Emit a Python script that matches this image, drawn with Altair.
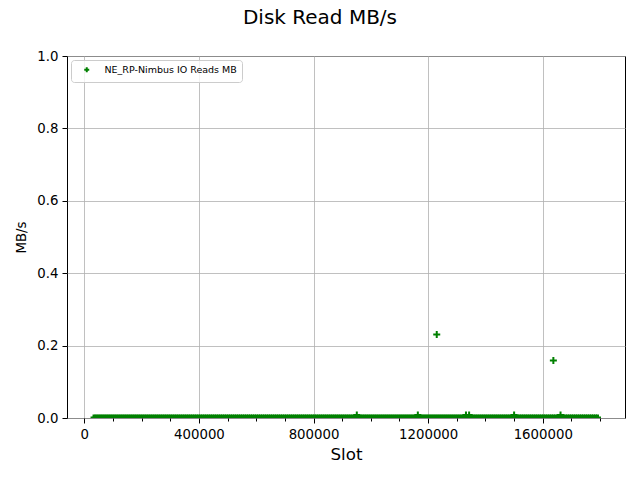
import altair as alt
import pandas as pd

# ---- data ----
series_name = "NE_RP-Nimbus IO Reads MB"

# slots (in thousands) where the reading is zero
zero_slots_k = [
    34, 41, 48, 55, 62, 69, 76, 83, 90, 97,
    104, 111, 118, 125, 132, 139, 146, 153, 160, 167,
    174, 181, 188, 195, 202, 209, 216, 223, 230, 237,
    244, 251, 258, 265, 272, 279, 286, 293, 300, 307,
    314, 321, 328, 335, 342, 349, 356, 363, 370, 377,
    384, 391, 398, 405, 412, 419, 426, 433, 440, 447,
    454, 461, 468, 475, 482, 489, 496, 503, 510, 517,
    524, 531, 538, 545, 552, 559, 566, 573, 580, 587,
    594, 601, 608, 615, 622, 629, 636, 643, 650, 657,
    664, 671, 678, 685, 692, 699, 706, 713, 720, 727,
    734, 741, 748, 755, 762, 769, 776, 783, 790, 797,
    804, 811, 818, 825, 832, 839, 846, 853, 860, 867,
    874, 881, 888, 895, 902, 909, 916, 923, 930, 937,
    944, 951, 958, 965, 972, 979, 986, 993, 1000, 1007,
    1014, 1021, 1028, 1035, 1042, 1049, 1056, 1063, 1070, 1077,
    1084, 1091, 1098, 1105, 1112, 1119, 1126, 1133, 1140, 1147,
    1154, 1161, 1168, 1175, 1182, 1189, 1196, 1203, 1210, 1217,
    1224, 1231, 1238, 1245, 1252, 1259, 1266, 1273, 1280, 1287,
    1294, 1301, 1308, 1315, 1322, 1329, 1336, 1343, 1350, 1357,
    1364, 1371, 1378, 1385, 1392, 1399, 1406, 1413, 1420, 1427,
    1434, 1441, 1448, 1455, 1462, 1469, 1476, 1483, 1490, 1497,
    1504, 1511, 1518, 1525, 1532, 1539, 1546, 1553, 1560, 1567,
    1574, 1581, 1588, 1595, 1602, 1609, 1616, 1623, 1630, 1637,
    1644, 1651, 1658, 1665, 1672, 1679, 1686, 1693, 1700, 1707,
    1714, 1721, 1728, 1735, 1742, 1749, 1756, 1763, 1770, 1777,
    1784, 1791,
]

# non-zero readings
spike_slots = [951000, 1164000, 1230000, 1332000, 1343000, 1500000, 1637000, 1662000]
spike_values = [0.008, 0.008, 0.231, 0.008, 0.008, 0.008, 0.159, 0.008]

x_tick_values = [0, 100000, 200000, 300000, 400000, 500000, 600000, 700000, 800000,
                 900000, 1000000, 1100000, 1200000, 1300000, 1400000, 1500000,
                 1600000, 1700000, 1800000]
y_tick_values = [0.0, 0.2, 0.4, 0.6, 0.8, 1.0]

slots = [s * 1000 for s in zero_slots_k] + spike_slots
values = [0.0] * len(zero_slots_k) + spike_values
df = pd.DataFrame({"Slot": slots, "MB/s": values, "series": series_name})

plus = "M-1,0L1,0M0,-1L0,1"
FONT = "DejaVu Sans"

chart = (
    alt.Chart(df)
    .mark_point(shape=plus, filled=False, size=49, clip=True, opacity=1)
    .encode(
        x=alt.X(
            "Slot:Q",
            scale=alt.Scale(domain=[-60400, 1887000], nice=False, zero=False),
            axis=alt.Axis(
                title="Slot",
                values=x_tick_values,
                format="d",
                labelExpr="datum.value % 400000 === 0 ? datum.label : ''",
                tickSize={"condition": {"test": "datum.value % 400000 === 0", "value": 5}, "value": 3},
                gridOpacity={"condition": {"test": "datum.value % 400000 === 0", "value": 1}, "value": 0},
                titleFontSize=16.7,
                titlePadding=6,
            ),
        ),
        y=alt.Y(
            "MB/s:Q",
            scale=alt.Scale(domain=[0, 1], nice=False),
            axis=alt.Axis(
                title="MB/s",
                values=y_tick_values,
                format=".1f",
                tickSize=5,
                titleFontSize=13.3,
                titlePadding=8,
            ),
        ),
        strokeWidth=alt.condition("datum['MB/s'] == 0", alt.value(3), alt.value(2)),
        color=alt.Color(
            "series:N",
            scale=alt.Scale(range=["#008000"]),
            legend=alt.Legend(
                title=None,
                orient="none",
                legendX=4,
                legendY=4,
                padding=5,
                symbolOffset=6,
                symbolType=plus,
                symbolSize=25,
                symbolStrokeWidth=2,
                labelFontSize=9.5,
                labelOffset=13,
                labelFont=FONT,
                labelColor="black",
                strokeColor="#cccccc",
                cornerRadius=3,
                fillColor="rgba(255,255,255,0.8)",
            ),
        ),
    )
    .properties(
        width=558,
        height=362,
        title=alt.TitleParams(
            "Disk Read MB/s",
            fontSize=20,
            font=FONT,
            fontWeight="normal",
            anchor="middle",
            dx=-26,
            baseline="alphabetic",
            offset=5,
            color="black",
        ),
        autosize=alt.AutoSizeParams(type="none"),
        padding={"left": 67, "top": 56, "right": 15, "bottom": 62},
    )
    .configure_view(stroke="black", strokeWidth=1)
    .configure_axis(
        domain=False,
        gridColor="#b0b0b0",
        gridWidth=0.8,
        tickColor="black",
        tickWidth=1,
        labelFont=FONT,
        labelFontSize=13.3,
        labelColor="black",
        labelPadding=4,
        titleFont=FONT,
        titleFontWeight="normal",
        titleColor="black",
    )
)

chart.save("out.html", embed_options={"renderer": "svg", "actions": False})
